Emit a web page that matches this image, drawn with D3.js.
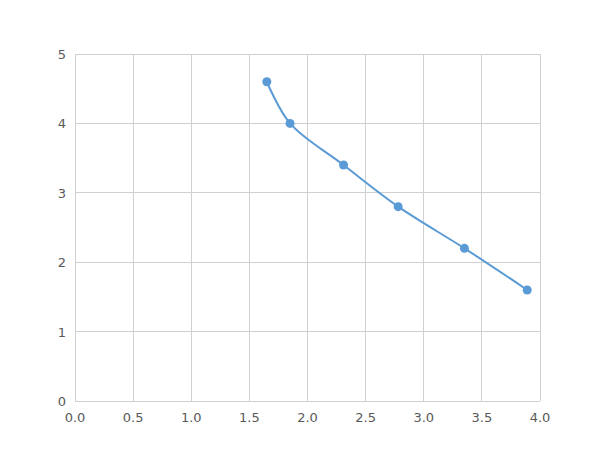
<!DOCTYPE html>
<html>
<head>
<meta charset="utf-8">
<script src="https://cdn.jsdelivr.net/npm/d3@7.9.0/dist/d3.min.js"></script>
<style>
  body { margin: 0; background: #fff; }
  text { font-family: "DejaVu Sans", sans-serif; }
</style>
</head>
<body>
<svg id="chart" width="600" height="450"></svg>
<script>
// data
const xValues = [1.65, 1.85, 2.31, 2.78, 3.35, 3.89];
const yValues = [4.6, 4.0, 3.4, 2.8, 2.2, 1.6];
const xTicks = [0, 0.5, 1, 1.5, 2, 2.5, 3, 3.5, 4];
const yTicks = [0, 1, 2, 3, 4, 5];

const svg = d3.select('#chart');
const plotLeft = 75, plotRight = 540, plotTop = 54, plotBottom = 401;

const x = d3.scaleLinear().domain([0, 4]).range([plotLeft, plotRight]);
const y = d3.scaleLinear().domain([0, 5]).range([plotBottom, plotTop]);

// grid
svg.append('g')
  .selectAll('line')
  .data(xTicks)
  .enter()
  .append('line')
  .attr('x1', d => x(d)).attr('x2', d => x(d))
  .attr('y1', plotTop).attr('y2', plotBottom)
  .attr('stroke', '#d0d0d0').attr('stroke-width', 1)
  .attr('shape-rendering', 'crispEdges');

svg.append('g')
  .selectAll('line')
  .data(yTicks)
  .enter()
  .append('line')
  .attr('x1', plotLeft).attr('x2', plotRight)
  .attr('y1', d => y(d)).attr('y2', d => y(d))
  .attr('stroke', '#d0d0d0').attr('stroke-width', 1)
  .attr('shape-rendering', 'crispEdges');

// tick labels
svg.append('g')
  .selectAll('text')
  .data(xTicks)
  .enter()
  .append('text')
  .attr('x', d => x(d))
  .attr('y', plotBottom + 21)
  .attr('text-anchor', 'middle')
  .attr('font-size', 13)
  .attr('fill', '#595959')
  .text(d => d3.format('.1f')(d));

svg.append('g')
  .selectAll('text')
  .data(yTicks)
  .enter()
  .append('text')
  .attr('x', plotLeft - 9)
  .attr('y', d => y(d) + 5)
  .attr('text-anchor', 'end')
  .attr('font-size', 13)
  .attr('fill', '#595959')
  .text(d => d);

// smoothed line + markers
const pts = xValues.map((v, i) => [v, yValues[i]]);
const line = d3.line()
  .x(d => x(d[0]))
  .y(d => y(d[1]))
  .curve(d3.curveCatmullRom.alpha(0.5));

svg.append('path')
  .datum(pts)
  .attr('d', line)
  .attr('fill', 'none')
  .attr('stroke', '#5b9bd5')
  .attr('stroke-width', 2);

svg.selectAll('circle')
  .data(pts)
  .enter()
  .append('circle')
  .attr('cx', d => x(d[0]))
  .attr('cy', d => y(d[1]))
  .attr('r', 4.5)
  .attr('fill', '#5b9bd5');
</script>
</body>
</html>
